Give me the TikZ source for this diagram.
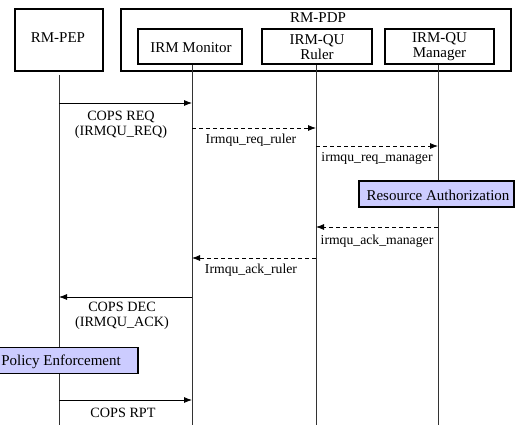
\documentclass[tikz,border=0pt]{standalone}
\usepackage{fontspec}
\setmainfont{Liberation Serif}
\usetikzlibrary{arrows.meta}
\begin{document}
\begin{tikzpicture}[x=1pt,y=-1pt,
  font=\fontsize{15}{15}\selectfont,
  box/.style={draw,line width=1.8pt,inner sep=0pt,align=center},
  actbox/.style={draw,line width=1.8pt,fill=blue!20,inner sep=0pt,minimum height=26},
  life/.style={line width=0.9pt,black!80},
  msg/.style={line width=0.8pt,-{Latex[length=8pt,width=6pt]}},
  ret/.style={msg,dash pattern=on 4pt off 3pt},
  lbl/.style={inner sep=0pt,align=center},
  caplbl/.style={lbl,font=\fontsize{14.2}{15}\selectfont},
  smllbl/.style={lbl,font=\fontsize{13.7}{15}\selectfont}]
\useasboundingbox (0,0) rectangle (518,425);
\clip (0,0) rectangle (518,425);
% headers
\node[box,minimum width=88,minimum height=62,anchor=north west] (pep) at (14,8) {};
\node[lbl] (peplbl) at (58,38) {RM-PEP};
\node[box,minimum width=390,minimum height=62,anchor=north west] (pdp) at (120,8) {};
\node[lbl] (pdplbl) at (318,18) {RM-PDP};
\node[box,minimum width=104,minimum height=35] (mon) at (190,46.5) {};
\node[lbl] (monlbl) at (191,48) {IRM Monitor};
\node[box,minimum width=110,minimum height=35] (rul) at (317,46.5) {};
\node[lbl] (rullbl) at (317,47) {IRM-QU\\Ruler};
\node[box,minimum width=109,minimum height=35] (man) at (439.5,46.5) {};
\node[lbl] (manlbl) at (439.5,47) {IRM-QU\\Manager};
% lifelines
\coordinate (pepT) at (59,75);   \coordinate (pepB) at (59,425);
\coordinate (monB) at (192,425);
\coordinate (rulB) at (316,425);
\coordinate (manB) at (438,425);
\draw[life] (pepT) -- (pepB);
\draw[life] (mon.south -| monB) -- (monB);
\draw[life] (rul.south -| rulB) -- (rulB);
\draw[life] (man.south -| manB) -- (manB);
% message points
\coordinate (p1) at (59,103);  \coordinate (m1) at (192,103);
\coordinate (m2) at (192,128); \coordinate (r2) at (316,128);
\coordinate (r3) at (316,146); \coordinate (a3) at (438,146);
\coordinate (a5) at (438,227); \coordinate (r5) at (316,227);
\coordinate (r6) at (316,258); \coordinate (m6) at (192,258);
\coordinate (m7) at (192,297); \coordinate (p7) at (59,297);
\coordinate (p9) at (59,400);  \coordinate (m9) at (192,400);
\draw[msg] (p1) -- (m1);
\node[caplbl] (l1) at (121,124.5) {COPS REQ\\(IRMQU\_REQ)};
\draw[ret] (m2) -- (r2);
\node[smllbl] (l2) at (251,140) {Irmqu\_req\_ruler};
\draw[ret] (r3) -- (a3);
\node[smllbl] (l3) at (377,158) {irmqu\_req\_manager};
\node[actbox,minimum width=155,anchor=west] (ra) at (358,194) {};
\node[lbl] (ralbl) at (438,195) {Resource Authorization};
\draw[ret] (a5) -- (r5);
\node[smllbl] (l5) at (377,241) {irmqu\_ack\_manager};
\draw[ret] (r6) -- (m6);
\node[smllbl] (l6) at (251,270) {Irmqu\_ack\_ruler};
\draw[msg] (m7) -- (p7);
\node[caplbl] (l7) at (122,315.5) {COPS DEC\\(IRMQU\_ACK)};
\node[actbox,minimum width=170,anchor=east] (pe) at (139,360.5) {};
\node[lbl,anchor=east] (pelbl) at (121,361.5) {Policy Enforcement};
\draw[msg] (p9) -- (m9);
\node[caplbl] (l9) at (123,413) {COPS RPT};
\end{tikzpicture}
\end{document}
